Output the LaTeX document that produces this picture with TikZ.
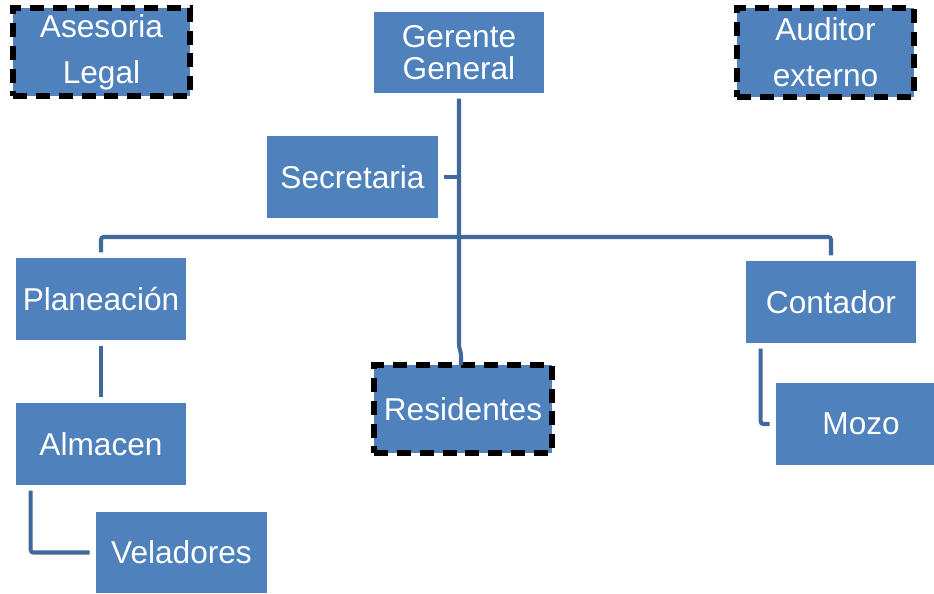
\documentclass[tikz,border=0pt]{standalone}
\usepackage{fontspec}
\setmainfont{Liberation Sans}
\definecolor{boxblue}{HTML}{4F81BD}
\definecolor{lineblue}{HTML}{41689C}
\tikzset{
    puesto/.style={fill=boxblue,text=white,inner sep=0pt,align=center,
        font=\fontsize{18}{21}\selectfont,minimum width=3.4cm,minimum height=1.64cm},
    externo/.style={puesto,draw=black,line width=3pt,dash pattern=on 8pt off 5pt,
        font=\fontsize{18}{26}\selectfont},
    conn/.style={draw=lineblue,line width=2.3pt,rounded corners=1.5pt,
        shorten <=3pt,shorten >=3pt}
}
\begin{document}
\begin{tikzpicture}[x=0.02cm,y=-0.02cm]
    \useasboundingbox (0,0) rectangle (934,593);
    \node[externo,minimum width=3.54cm,minimum height=1.76cm] (legal) at (101.5,52) {Asesoria\\Legal};
    \node[puesto,minimum height=1.62cm,font=\fontsize{18}{18}\selectfont] (gerente) at (459,52.5) {Gerente\\General};
    \node[externo,minimum width=3.54cm,minimum height=1.78cm] (auditor) at (825.5,52.5) {Auditor\\externo};
    \node[puesto,minimum width=3.42cm] (secretaria) at (352.5,177) {Secretaria};
    \node[puesto] (planeacion) at (101,299) {Planeación};
    \node[puesto] (contador) at (831,302) {Contador};
    \node[externo,minimum width=3.56cm,minimum height=1.76cm] (residentes) at (463,409) {Residentes};
    \node[puesto] (almacen) at (101,444) {Almacen};
    \node[puesto,minimum width=3.16cm] (mozo) at (855,424) {\hspace{7pt}Mozo};
    \node[puesto,minimum width=3.42cm,minimum height=1.62cm] (veladores) at (181.5,552.5) {Veladores};
    \coordinate (bus) at (459,237);
    % lineas
    \draw[conn,shorten >=0pt] (gerente.south) -- (459,347) -- (461,353) -- (461,365);
    \draw[conn,shorten >=0pt] (secretaria.east) -- (gerente.south |- secretaria.east);
    \draw[conn] (planeacion.north) |- (bus) -| (contador.north);
    \draw[conn] (planeacion.south) -- (almacen.north);
    \draw[conn,shorten >=0pt] ([xshift=0.3cm]almacen.south west) |- ([xshift=-0.12cm]veladores.west);
    \draw[conn,shorten >=0pt] ([xshift=0.3cm]contador.south west) |- ([xshift=-0.12cm]mozo.west);
\end{tikzpicture}
\end{document}
